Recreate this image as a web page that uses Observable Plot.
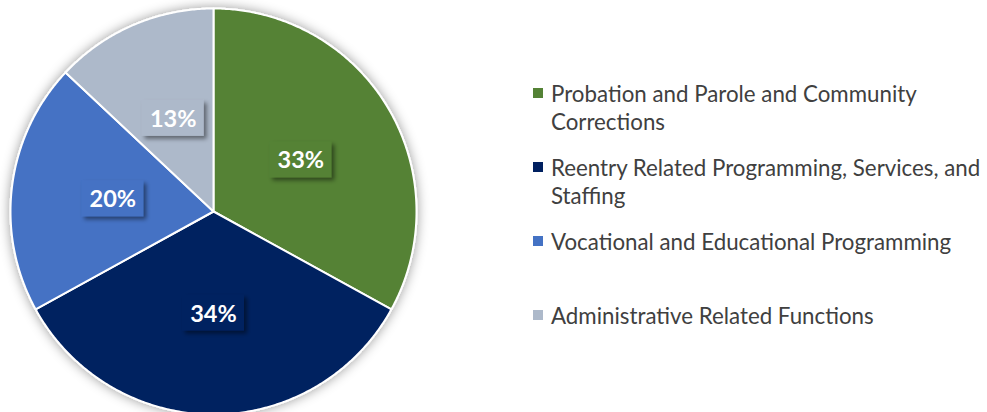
<!DOCTYPE html>
<html><head><meta charset="utf-8">
<script src="https://cdn.jsdelivr.net/npm/d3@7"></script>
<script src="https://cdn.jsdelivr.net/npm/@observablehq/plot@0.6"></script>
<style>
html,body{margin:0;padding:0;background:#fff;}
#wrap{position:relative;width:987px;height:412px;overflow:hidden;font-family:Lato,"Open Sans",sans-serif;}
#chart{position:absolute;left:0;top:0;}
#legend{position:absolute;left:533px;top:0;width:454px;height:412px;}
.item{position:absolute;left:0;display:flex;align-items:flex-start;}
.sw{width:10px;height:10px;margin-top:8px;margin-right:8px;flex:none;}
.lbl{font-size:22.3px;line-height:28px;color:#404040;width:446px;}
</style>
</head><body>
<div id="wrap"><div id="chart"></div><div id="legend"></div></div>
<script>
const categories = [
  "Probation and Parole and Community Corrections",
  "Reentry Related Programming, Services, and Staffing",
  "Vocational and Educational Programming",
  "Administrative Related Functions"
];
const values = [33, 34, 20, 13];
const pctLabels = ["33%", "34%", "20%", "13%"];
const colors = ["#548235", "#002060", "#4472C4", "#ADB9CA"];

const R = 203;
const arcs = d3.pie().sort(null).value(d => d)(values);

// polygon points for each slice (unit circle coordinates)
const slicePts = [];
arcs.forEach((a, i) => {
  const cat = categories[i];
  slicePts.push({cat, x: 0, y: 0});
  const n = Math.max(2, Math.ceil((a.endAngle - a.startAngle) / (Math.PI / 360)));
  for (let k = 0; k <= n; k++) {
    const t = a.startAngle + (a.endAngle - a.startAngle) * k / n;
    slicePts.push({cat, x: Math.sin(t), y: Math.cos(t)});
  }
  slicePts.push({cat, x: 0, y: 0});
});

const bw = 31 / R, bh = 18 / R;
const labelData = arcs.map((a, i) => {
  const m = (a.startAngle + a.endAngle) / 2;
  const cx = 0.5 * Math.sin(m), cy = 0.5 * Math.cos(m);
  return {cat: categories[i], label: pctLabels[i], cx, cy, x1: cx - bw, x2: cx + bw, y1: cy - bh, y2: cy + bh};
});

const plot = Plot.plot({
  width: 430, height: 412, margin: 0,
  x: {domain: [-1, 1], range: [213 - R, 213 + R], axis: null},
  y: {domain: [-1, 1], range: [211 + R, 211 - R], axis: null},
  color: {domain: categories, range: colors},
  marks: [
    Plot.line(slicePts, {x: "x", y: "y", z: "cat", fill: "cat", stroke: "white", strokeWidth: 2, strokeLinejoin: "round", curve: "linear"}),
    Plot.rect(labelData, {x1: "x1", x2: "x2", y1: "y1", y2: "y2", fill: "cat"}),
    Plot.text(labelData, {x: "cx", y: "cy", text: "label", fill: "white", fontSize: 23.5, fontWeight: "bold", fontFamily: "Lato, 'Open Sans', sans-serif", textAnchor: "middle", dy: 1})
  ]
});

const svg = d3.select(plot);
const defs = svg.insert("defs", ":first-child");
defs.append("filter").attr("id", "pieShadow").attr("x", "-10%").attr("y", "-10%").attr("width", "120%").attr("height", "120%")
  .append("feDropShadow").attr("dx", 0).attr("dy", 0).attr("stdDeviation", 6).attr("flood-color", "#000").attr("flood-opacity", 0.4);
defs.append("filter").attr("id", "boxShadow").attr("x", "-30%").attr("y", "-30%").attr("width", "160%").attr("height", "160%")
  .append("feDropShadow").attr("dx", 3).attr("dy", 3).attr("stdDeviation", 2).attr("flood-color", "#000").attr("flood-opacity", 0.45);
svg.selectAll("g[aria-label=line]").attr("filter", "url(#pieShadow)");
svg.selectAll("g[aria-label=rect] rect").attr("filter", "url(#boxShadow)");
svg.style("overflow", "visible");

document.getElementById("chart").appendChild(plot);

const legend = d3.select("#legend");
categories.forEach((c, i) => {
  const it = legend.append("div").attr("class", "item").style("top", (80 + i * 74) + "px");
  it.append("div").attr("class", "sw").style("background", colors[i]);
  it.append("div").attr("class", "lbl").text(c);
});
</script>
</body></html>
